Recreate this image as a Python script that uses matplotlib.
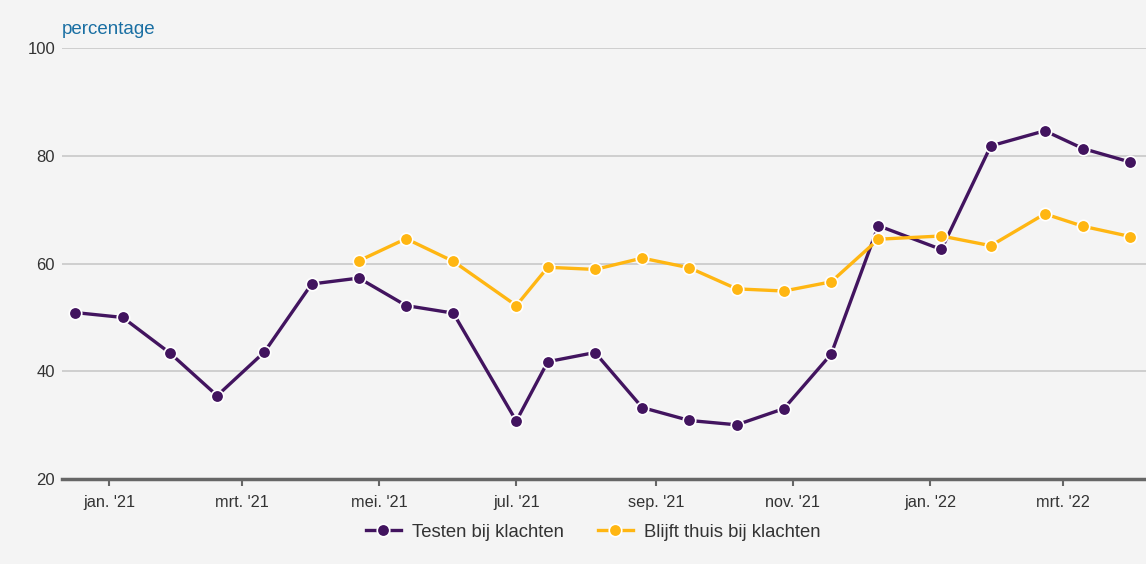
import matplotlib
matplotlib.use("Agg")
import matplotlib.pyplot as plt
import numpy as np
import pandas as pd

plt.rcParams['font.family'] = ['Liberation Sans', 'DejaVu Sans']

# data
datums = pd.to_datetime([
    "2020-12-17", "2021-01-07", "2021-01-28", "2021-02-18", "2021-03-11",
    "2021-04-01", "2021-04-22", "2021-05-13", "2021-06-03", "2021-07-01",
    "2021-07-15", "2021-08-05", "2021-08-26", "2021-09-16", "2021-10-07",
    "2021-10-28", "2021-11-18", "2021-12-09", "2022-01-06", "2022-01-28",
    "2022-02-21", "2022-03-10", "2022-03-31",
])
testen = [50.9, 50.0, 43.4, 35.5, 43.6, 56.2, 57.3, 52.2, 50.8, 30.8,
          41.8, 43.5, 33.3, 30.9, 30.1, 33.1, 43.2, 67.0, 62.6, 81.8,
          84.6, 81.3, 78.8]
thuis = [np.nan] * 6 + [60.5, 64.6, 60.4, 52.2, 59.3, 58.9, 61.0, 59.2,
                        55.3, 54.9, 56.6, 64.5, 65.1, 63.3, 69.2, 66.9, 65.0]

tick_dates = pd.to_datetime(["2021-01-01", "2021-03-01", "2021-05-01", "2021-07-01",
                             "2021-09-01", "2021-11-01", "2022-01-01", "2022-03-01"])
tick_labels = ["jan. '21", "mrt. '21", "mei. '21", "jul. '21",
               "sep. '21", "nov. '21", "jan. '22", "mrt. '22"]

paars = "#42145f"
geel = "#ffb612"
bg = "#f4f4f4"

fig = plt.figure(figsize=(11.46, 5.64), dpi=100, facecolor=bg)
ax = fig.add_axes([62 / 1146, 1 - 479.3 / 564, (1146 - 62) / 1146, (479.3 - 47.7) / 564])
ax.set_facecolor(bg)

ax.plot(datums, testen, color=paars, lw=2.4, marker="o", ms=9,
        mfc=paars, mec="white", mew=1.2, label="Testen bij klachten", zorder=3)
ax.plot(datums, thuis, color=geel, lw=2.4, marker="o", ms=9,
        mfc=geel, mec="white", mew=1.2, label="Blijft thuis bij klachten", zorder=3)

ax.set_ylim(20, 100)
ax.set_yticks([20, 40, 60, 80, 100])
ax.set_xlim(pd.Timestamp("2020-12-11"), pd.Timestamp("2022-04-07"))
ax.set_xticks(tick_dates)
ax.set_xticklabels(tick_labels)

ax.grid(axis="y", color="#c8c8c8", lw=1.2)
ax.set_axisbelow(True)
for s in ["top", "right", "left"]:
    ax.spines[s].set_visible(False)
ax.spines["bottom"].set_color("#666666")
ax.spines["bottom"].set_linewidth(2.5)
ax.tick_params(axis="y", length=0, pad=5, labelsize=12, labelcolor="#333333")
ax.tick_params(axis="x", length=5, width=1.5, color="#666666", pad=6,
               labelsize=11.7, labelcolor="#333333")

fig.text(62 / 1146, 1 - 29 / 564, "percentage", color="#1a6fa3", fontsize=13.5,
         va="center", ha="left")

leg = ax.legend(loc="center", bbox_to_anchor=(0.49, -0.123), ncol=2, frameon=False,
                fontsize=13.3, handlelength=1.9, columnspacing=1.85, handletextpad=0.6)
for t in leg.get_texts():
    t.set_color("#333333")

fig.savefig("out.png", dpi=100, facecolor=bg)
